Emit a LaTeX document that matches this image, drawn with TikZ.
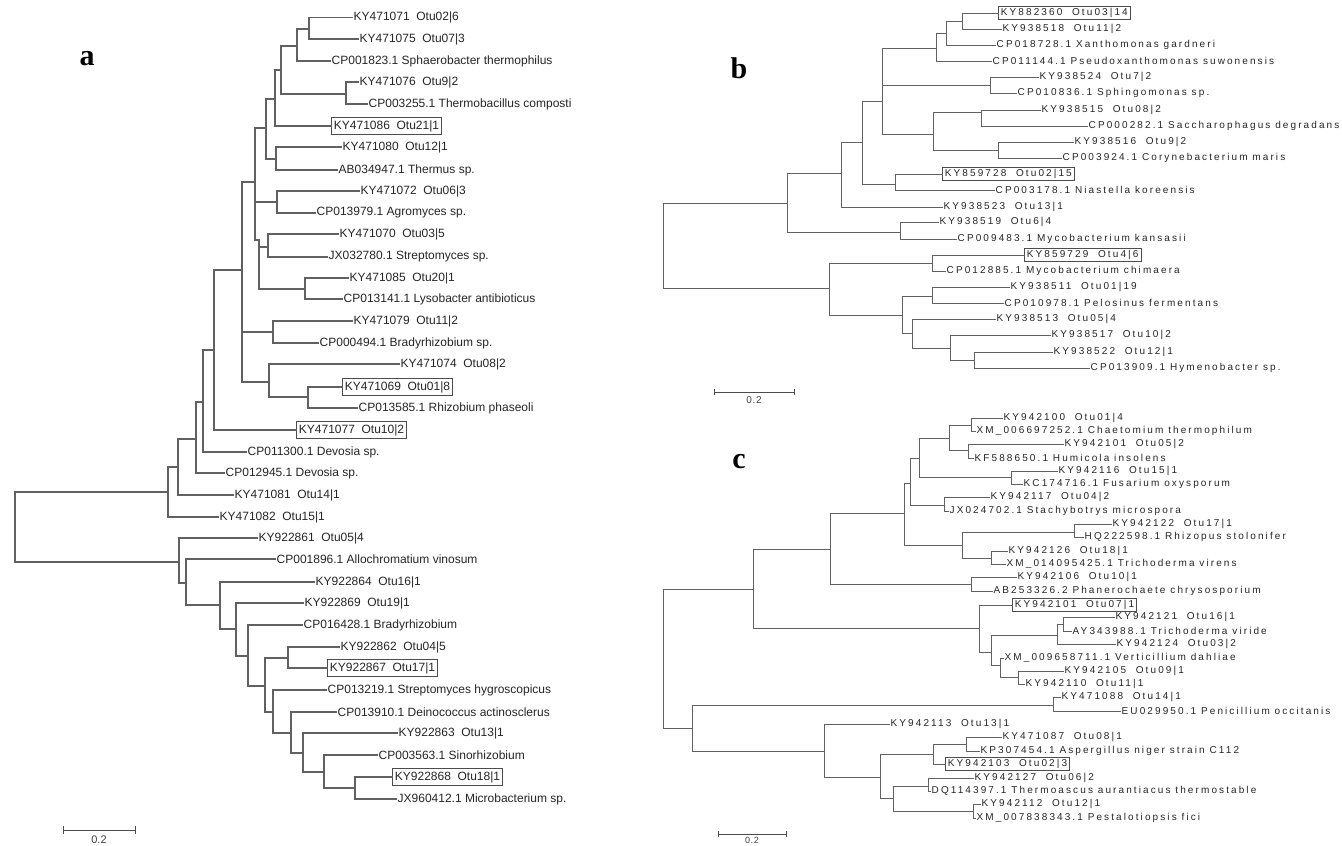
\documentclass[tikz,border=0pt]{standalone}
\usepackage{fontspec}
\setmainfont{Liberation Sans}
\newfontfamily\fA{Liberation Sans}
\newfontfamily\fB[LetterSpace=21]{Liberation Sans}
\newfontfamily\fC[LetterSpace=8]{Liberation Sans}
\newfontfamily\fL{Liberation Serif}
\newcommand\mkleaf[5]{\node[lab] (#1) at (#4,#3) {#5}; \draw[br] (#2,#3) -- (#1.west);}
\newcommand\mkbox[5]{\node[lab,boxed] (#1) at (#4,#3) {#5}; \draw[br] (#2,#3) -- (#1.west);}
\newcommand\mkclade[5]{\draw[br] (#1,#2) -- (#1,#3); \draw[br] (#4,#5) -- (#1,#5);}
\begin{document}
\begin{tikzpicture}[x=1pt,y=-1pt,
  br/.style={draw=black!62,line width=1.2pt,line cap=rect},
  lab/.style={anchor=west,inner xsep=1.5pt,inner ysep=0pt,text=black!85},
  boxed/.style={draw=black!70,line width=0.9pt,inner xsep=2.5pt,inner ysep=3pt},
  panel/.style={font=\fL\bfseries\fontsize{30}{30}\selectfont,text=black},
  sbar/.style={draw=black!70,line width=0.9pt}]
\useasboundingbox[fill=white] (0,0) rectangle (1342,846);
% ---------------- tree a ----------------
\begin{scope}[lab/.append style={font=\fA\fontsize{12}{14}\selectfont}]
\mkleaf{a1}{309}{17.5}{352}{KY471071\ \ Otu02|6}
\mkleaf{a2}{309}{39}{358}{KY471075\ \ Otu07|3}
\mkclade{309}{17.5}{39}{297}{29}
\mkleaf{a3}{297}{61}{330}{CP001823.1 Sphaerobacter thermophilus}
\mkclade{297}{29}{61}{281}{46}
\mkleaf{a4}{346}{82}{358}{KY471076\ \ Otu9|2}
\mkleaf{a5}{346}{104}{367}{CP003255.1 Thermobacillus composti}
\mkclade{346}{82}{104}{281}{94}
\mkclade{281}{46}{94}{275}{70}
\mkbox{a6}{275}{126}{331}{KY471086\ \ Otu21|1}
\mkclade{275}{70}{126}{266}{99}
\mkleaf{a7}{276}{147}{341}{KY471080\ \ Otu12|1}
\mkleaf{a8}{276}{170}{337}{AB034947.1 Thermus sp.}
\mkclade{276}{147}{170}{266}{159}
\mkclade{266}{99}{159}{255}{128}
\mkleaf{a9}{277}{191}{359}{KY471072\ \ Otu06|3}
\mkleaf{a10}{277}{213}{315}{CP013979.1 Agromyces sp.}
\mkclade{277}{191}{213}{255}{202}
\mkleaf{a11}{268}{234}{338}{KY471070\ \ Otu03|5}
\mkleaf{a12}{268}{257}{327}{JX032780.1 Streptomyces sp.}
\mkclade{268}{234}{257}{259}{247}
\mkleaf{a13}{305}{278}{348}{KY471085\ \ Otu20|1}
\mkleaf{a14}{305}{299}{342}{CP013141.1 Lysobacter antibioticus}
\mkclade{305}{278}{299}{259}{289}
\mkclade{259}{240}{289}{255}{240}
\mkclade{255}{128}{240}{242}{182}
\mkleaf{a15}{273}{321}{352}{KY471079\ \ Otu11|2}
\mkleaf{a16}{273}{343}{318}{CP000494.1 Bradyrhizobium sp.}
\mkclade{273}{321}{343}{242}{332}
\mkleaf{a17}{269}{364}{399}{KY471074\ \ Otu08|2}
\mkbox{a18}{308}{387}{342}{KY471069\ \ Otu01|8}
\mkleaf{a19}{308}{408}{357}{CP013585.1 Rhizobium phaseoli}
\mkclade{308}{387}{408}{269}{397}
\mkclade{269}{364}{397}{242}{382}
\mkclade{242}{182}{382}{214}{270}
\mkbox{a20}{214}{430}{296}{KY471077\ \ Otu10|2}
\mkclade{214}{270}{430}{203}{350}
\mkleaf{a21}{203}{452}{246}{CP011300.1 Devosia sp.}
\mkclade{203}{350}{452}{196}{402}
\mkleaf{a22}{196}{473}{224}{CP012945.1 Devosia sp.}
\mkclade{196}{402}{473}{178}{439}
\mkleaf{a23}{178}{495}{233}{KY471081\ \ Otu14|1}
\mkclade{178}{439}{495}{168}{467}
\mkleaf{a24}{168}{517}{218}{KY471082\ \ Otu15|1}
\mkclade{168}{467}{517}{15}{492}
\draw[br] (15,492) -- (15,562);
\mkleaf{a25}{179}{538}{257}{KY922861\ \ Otu05|4}
\mkclade{179}{538}{583}{15}{562}
\mkleaf{a26}{186}{559}{275}{CP001896.1 Allochromatium vinosum}
\mkclade{186}{559}{605}{179}{583}
\mkleaf{a27}{220}{582}{314}{KY922864\ \ Otu16|1}
\mkclade{220}{582}{629}{186}{605}
\mkleaf{a28}{236}{603}{303}{KY922869\ \ Otu19|1}
\mkclade{236}{603}{656}{220}{629}
\mkleaf{a29}{248}{625}{302}{CP016428.1 Bradyrhizobium}
\mkclade{248}{625}{686}{236}{656}
\mkleaf{a30}{288}{647}{339}{KY922862\ \ Otu04|5}
\mkbox{a31}{288}{668}{327}{KY922867\ \ Otu17|1}
\mkclade{288}{647}{668}{265}{658}
\mkleaf{a32}{273}{690}{326}{CP013219.1 Streptomyces hygroscopicus}
\mkclade{265}{658}{712}{248}{686}
\mkleaf{a33}{291}{712}{336}{CP013910.1 Deinococcus actinosclerus}
\mkclade{273}{690}{733}{265}{712}
\mkleaf{a34}{303}{733}{397}{KY922863\ \ Otu13|1}
\mkclade{291}{712}{753}{273}{733}
\mkleaf{a35}{324}{755}{377}{CP003563.1 Sinorhizobium}
\mkclade{303}{733}{772}{291}{753}
\mkbox{a36}{355}{777}{392}{KY922868\ \ Otu18|1}
\mkleaf{a37}{355}{799}{396}{JX960412.1 Microbacterium sp.}
\mkclade{355}{777}{799}{324}{788}
\mkclade{324}{755}{788}{303}{772}
\end{scope}
\node[panel] (la) at (87,59) {a};
\coordinate (sa1) at (63,830); \coordinate (sa2) at (135,830);
\draw[sbar] (sa1) -- (sa2);
\draw[sbar] ([yshift=-4pt]sa1) -- ([yshift=4pt]sa1);
\draw[sbar] ([yshift=-4pt]sa2) -- ([yshift=4pt]sa2);
\node[font=\fA\fontsize{11}{12}\selectfont,text=black!75] (sal) at (99,840) {0.2};
% ---------------- tree b ----------------
\begin{scope}[br/.append style={line width=1pt},
  lab/.append style={font=\fB\fontsize{10}{12}\selectfont},
  boxed/.append style={inner ysep=2pt}]
\mkbox{b1}{962}{13}{998}{KY882360\ \ Otu03|14}
\mkleaf{b2}{962}{29}{1001}{KY938518\ \ Otu11|2}
\mkclade{962}{13}{29}{946}{21}
\mkleaf{b3}{946}{45}{995}{CP018728.1 Xanthomonas gardneri}
\mkclade{946}{21}{45}{936}{33}
\mkleaf{b4}{936}{61}{991}{CP011144.1 Pseudoxanthomonas suwonensis}
\mkclade{936}{33}{61}{882}{48}
\mkleaf{b5}{990}{77}{1038}{KY938524\ \ Otu7|2}
\mkleaf{b6}{990}{93}{1016}{CP010836.1 Sphingomonas sp.}
\mkclade{990}{77}{93}{882}{85}
\mkleaf{b7}{981}{110}{1040}{KY938515\ \ Otu08|2}
\mkleaf{b8}{981}{126}{1087}{CP000282.1 Saccharophagus degradans}
\mkclade{981}{110}{126}{933}{112}
\mkleaf{b9}{998}{142}{1073}{KY938516\ \ Otu9|2}
\mkleaf{b10}{998}{158}{1061}{CP003924.1 Corynebacterium maris}
\mkclade{998}{142}{158}{933}{150}
\mkclade{933}{112}{150}{882}{134}
\mkclade{882}{48}{134}{862}{101}
\mkbox{b11}{895}{174}{942}{KY859728\ \ Otu02|15}
\mkleaf{b12}{895}{190}{994}{CP003178.1 Niastella koreensis}
\mkclade{895}{174}{190}{862}{184}
\mkclade{862}{101}{184}{841}{142}
\mkleaf{b13}{841}{207}{942}{KY938523\ \ Otu13|1}
\mkclade{841}{142}{207}{787}{173}
\mkleaf{b14}{900}{222}{938}{KY938519\ \ Otu6|4}
\mkleaf{b15}{900}{239}{956}{CP009483.1 Mycobacterium kansasii}
\mkclade{900}{222}{239}{787}{232}
\mkclade{787}{173}{232}{663}{203}
\draw[br] (663,203) -- (663,288);
\mkbox{b16}{932}{255}{1024}{KY859729\ \ Otu4|6}
\mkleaf{b17}{932}{271}{945}{CP012885.1 Mycobacterium chimaera}
\mkclade{932}{255}{271}{829}{263}
\mkleaf{b18}{932}{287}{1009}{KY938511\ \ Otu01|19}
\mkleaf{b19}{932}{303}{1003}{CP010978.1 Pelosinus fermentans}
\mkclade{932}{287}{303}{902}{296}
\mkleaf{b20}{912}{319}{995}{KY938513\ \ Otu05|4}
\mkleaf{b21}{950}{335}{1050}{KY938517\ \ Otu10|2}
\mkleaf{b22}{974}{352}{1052}{KY938522\ \ Otu12|1}
\mkleaf{b23}{974}{368}{1089}{CP013909.1 Hymenobacter sp.}
\mkclade{974}{352}{368}{950}{360}
\mkclade{950}{335}{360}{912}{348}
\mkclade{912}{319}{348}{902}{333}
\mkclade{902}{296}{333}{829}{315}
\mkclade{829}{263}{315}{663}{288}
% ---------------- tree c ----------------
\mkleaf{c1}{971}{418}{1002}{KY942100\ \ Otu01|4}
\mkleaf{c2}{971}{431}{975}{XM\_006697252.1 Chaetomium thermophilum}
\mkclade{971}{418}{431}{949}{425}
\mkleaf{c3}{968}{444}{1063}{KY942101\ \ Otu05|2}
\mkleaf{c4}{968}{458}{973}{KF588650.1 Humicola insolens}
\mkclade{968}{444}{458}{949}{450}
\mkclade{949}{425}{450}{919}{438}
\mkleaf{c5}{1011}{471}{1057}{KY942116\ \ Otu15|1}
\mkleaf{c6}{1011}{484}{1022}{KC174716.1 Fusarium oxysporum}
\mkclade{1011}{471}{484}{919}{477}
\mkclade{919}{438}{477}{910}{458}
\mkleaf{c7}{944}{497}{989}{KY942117\ \ Otu04|2}
\mkleaf{c8}{944}{511}{948}{JX024702.1 Stachybotrys microspora}
\mkclade{944}{497}{511}{910}{505}
\mkclade{910}{458}{505}{904}{483}
\mkleaf{c9}{1074}{524}{1111}{KY942122\ \ Otu17|1}
\mkleaf{c10}{1074}{537}{1083}{HQ222598.1 Rhizopus stolonifer}
\mkclade{1074}{524}{537}{962}{532}
\mkleaf{c11}{991}{551}{1007}{KY942126\ \ Otu18|1}
\mkleaf{c12}{991}{564}{1005}{XM\_014095425.1 Trichoderma virens}
\mkclade{991}{551}{564}{962}{558}
\mkclade{962}{532}{558}{904}{545}
\mkclade{904}{483}{545}{830}{513}
\mkleaf{c13}{971}{577}{1016}{KY942106\ \ Otu10|1}
\mkleaf{c14}{971}{591}{992}{AB253326.2 Phanerochaete chrysosporium}
\mkclade{971}{577}{591}{830}{584}
\mkclade{830}{513}{584}{753}{549}
\mkbox{c15}{979}{605}{1012}{KY942101\ \ Otu07|1}
\mkleaf{c16}{1063}{617}{1114}{KY942121\ \ Otu16|1}
\mkleaf{c17}{1063}{631}{1071}{AY343988.1 Trichoderma viride}
\mkclade{1063}{617}{631}{1057}{624}
\mkleaf{c18}{1057}{644}{1115}{KY942124\ \ Otu03|2}
\mkclade{1057}{624}{644}{991}{635}
\mkleaf{c19}{1000}{658}{1003}{XM\_009658711.1 Verticillium dahliae}
\mkleaf{c20}{1018}{671}{1063}{KY942105\ \ Otu09|1}
\mkleaf{c21}{1018}{684}{1024}{KY942110\ \ Otu11|1}
\mkclade{1018}{671}{684}{1000}{677}
\mkclade{1000}{658}{677}{991}{665}
\mkclade{991}{635}{665}{979}{652}
\mkclade{979}{605}{652}{753}{628}
\mkclade{753}{549}{628}{663}{589}
\draw[br] (663,589) -- (663,728);
\mkleaf{c22}{1053}{697}{1060}{KY471088\ \ Otu14|1}
\mkleaf{c23}{1053}{711}{1120}{EU029950.1 Penicillium occitanis}
\mkclade{1053}{697}{711}{692}{705}
\mkleaf{c24}{824}{724}{889}{KY942113\ \ Otu13|1}
\mkleaf{c25}{966}{737}{1001}{KY471087\ \ Otu08|1}
\mkleaf{c26}{966}{751}{979}{KP307454.1 Aspergillus niger strain C112}
\mkclade{966}{737}{751}{933}{744}
\mkbox{c27}{933}{764}{945}{KY942103\ \ Otu02|3}
\mkclade{933}{744}{764}{880}{754}
\mkleaf{c28}{928}{778}{973}{KY942127\ \ Otu06|2}
\mkleaf{c29}{928}{791}{930}{DQ114397.1 Thermoascus aurantiacus thermostable}
\mkclade{928}{778}{791}{893}{786}
\mkleaf{c30}{973}{804}{980}{KY942112\ \ Otu12|1}
\mkleaf{c31}{973}{818}{975}{XM\_007838343.1 Pestalotiopsis fici}
\mkclade{973}{804}{818}{893}{811}
\mkclade{893}{786}{811}{880}{798}
\mkclade{880}{754}{798}{824}{777}
\mkclade{824}{724}{777}{692}{751}
\mkclade{692}{705}{751}{663}{728}
\end{scope}
\node[panel] (lb) at (739,68) {b};
\node[panel] (lc) at (739,462) {c};
\coordinate (sb1) at (714,392); \coordinate (sb2) at (794,392);
\draw[sbar] (sb1) -- (sb2);
\draw[sbar] ([yshift=-3pt]sb1) -- ([yshift=3pt]sb1);
\draw[sbar] ([yshift=-3pt]sb2) -- ([yshift=3pt]sb2);
\node[font=\fC\fontsize{10}{11}\selectfont,text=black!75] (sbl) at (754,400) {0.2};
\coordinate (sc1) at (718,834); \coordinate (sc2) at (786,834);
\draw[sbar] (sc1) -- (sc2);
\draw[sbar] ([yshift=-3pt]sc1) -- ([yshift=3pt]sc1);
\draw[sbar] ([yshift=-3pt]sc2) -- ([yshift=3pt]sc2);
\node[font=\fC\fontsize{9}{10}\selectfont,text=black!75] (scl) at (752,840.5) {0.2};
\end{tikzpicture}
\end{document}
